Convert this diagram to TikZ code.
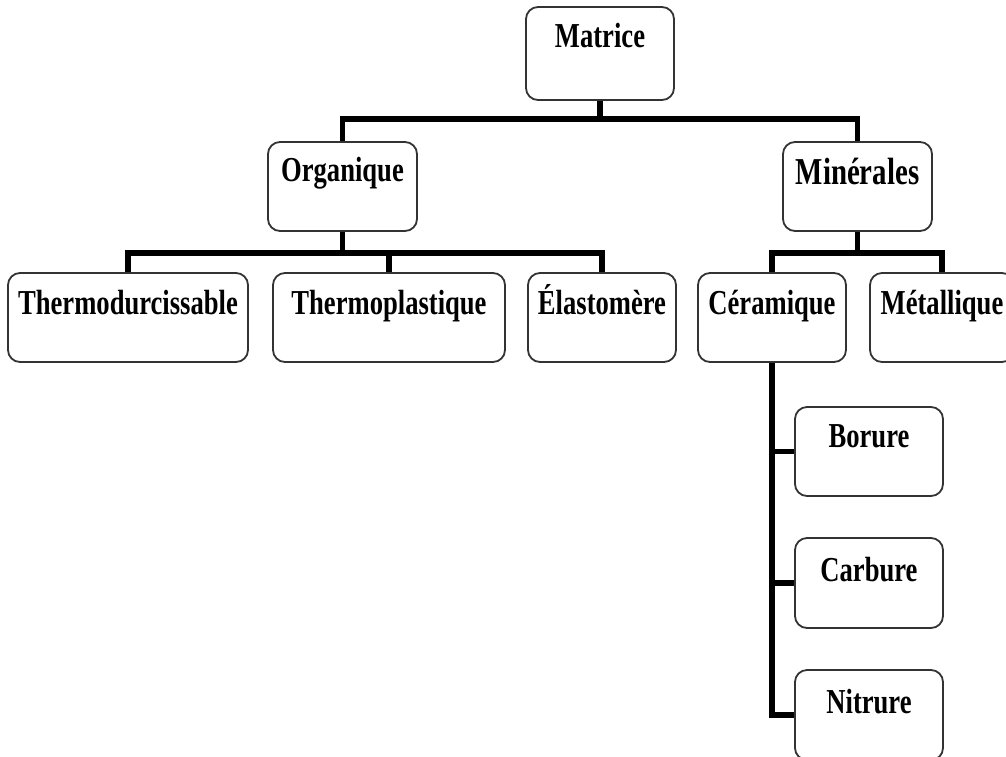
\documentclass[tikz,border=0pt]{standalone}
\usepackage{fontspec}
\setmainfont{Liberation Serif}[FakeStretch=0.76]
\usetikzlibrary{calc}
\begin{document}
\begin{tikzpicture}[x=1pt,y=-1pt,
  box/.style={draw=black!80, line width=1.8pt, rounded corners=12pt, fill=white, inner sep=0pt},
  txt/.style={anchor=base, inner sep=0pt, font=\fontsize{35}{40}\selectfont\bfseries},
  conn/.style={line width=5.5pt, draw=black}]
\useasboundingbox (0,0) rectangle (1006,756);
% boxes
\node[box, minimum width=148pt, minimum height=93pt] (mat) at (600,53.5) {};
\node[box, minimum width=149pt, minimum height=89pt] (org) at (342.5,186.5) {};
\node[box, minimum width=149pt, minimum height=89pt] (min) at (857.5,186.5) {};
\node[box, minimum width=240pt, minimum height=89pt] (thd) at (128,317.5) {};
\node[box, minimum width=232pt, minimum height=89pt] (thp) at (389,317.5) {};
\node[box, minimum width=148pt, minimum height=89pt] (ela) at (602,317.5) {};
\node[box, minimum width=148pt, minimum height=89pt] (cer) at (772,317.5) {};
\node[box, minimum width=144pt, minimum height=89pt] (met) at (942,317.5) {};
\node[box, minimum width=148pt, minimum height=89pt] (bor) at (869,451.5) {};
\node[box, minimum width=148pt, minimum height=90pt] (car) at (869,583) {};
\node[box, minimum width=148pt, minimum height=90pt] (nit) at (869,715) {};
% texts
\node[txt] (matT) at ($(mat.north)+(0,41)$) {Matrice};
\node[txt] (orgT) at ($(org.north)+(0,40)$) {Organique};
\node[txt, font=\fontsize{38}{42}\selectfont\bfseries] (minT) at ($(min.north)+(0,43)$) {Minérales};
\node[txt] (thdT) at ($(thd.north)+(0,42)$) {Thermodurcissable};
\node[txt] (thpT) at ($(thp.north)+(0,42)$) {Thermoplastique};
\node[txt] (elaT) at ($(ela.north)+(0,42)$) {Élastomère};
\node[txt] (cerT) at ($(cer.north)+(0,42)$) {Céramique};
\node[txt] (metT) at ($(met.north)+(0,42)$) {Métallique};
\node[txt] (borT) at ($(bor.north)+(0,41)$) {Borure};
\node[txt] (carT) at ($(car.north)+(0,44)$) {Carbure};
\node[txt] (nitT) at ($(nit.north)+(0,44)$) {Nitrure};
% connectors
\coordinate (b1) at ($(mat.south)+(0,18)$);
\coordinate (b2) at ($(org.south)+(0,21)$);
\coordinate (b3) at ($(min.south)+(0,21)$);
\draw[conn] (mat.south) -- (b1);
\draw[conn] (org.north) |- (b1) -| (min.north);
\draw[conn] (org.south) -- (b2);
\draw[conn] (thd.north) |- (b2) -| (ela.north);
\draw[conn] (thp.north) -- (thp.north |- b2);
\draw[conn] (min.south) -- (b3);
\draw[conn] (cer.north) |- (b3) -| (met.north);
\draw[conn] (cer.south) |- (nit.west);
\draw[conn] (cer.south |- bor.west) -- (bor.west);
\draw[conn] (cer.south |- car.west) -- (car.west);
\end{tikzpicture}
\end{document}
